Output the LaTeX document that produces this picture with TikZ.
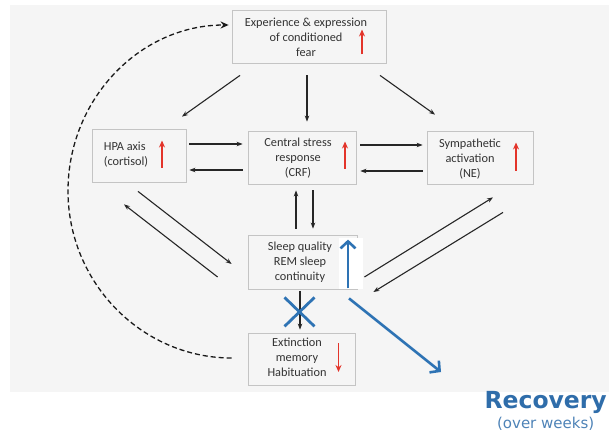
\documentclass[tikz,border=0pt]{standalone}
\usepackage{fontspec}
\setmainfont{Carlito}
\newfontfamily\dejavu{DejaVu Sans}
\usetikzlibrary{arrows.meta,calc}
\definecolor{bgc}{HTML}{F5F5F5}
\definecolor{boxborder}{HTML}{C4C4C4}
\definecolor{myred}{HTML}{E3342A}
\definecolor{myblue}{HTML}{2E73B4}
\definecolor{recblue}{HTML}{2F6DAA}
\begin{document}
\begin{tikzpicture}[x=1pt,y=-1pt,
  box/.style={draw=boxborder,fill=bgc,line width=0.8pt,inner sep=0pt},
  lbl/.style={align=center,font=\fontsize{12.3}{15}\selectfont,text=black!80,inner sep=0pt},
  arr/.style={-{Stealth[length=6pt,width=4.5pt]},line width=1.1pt,black!85},
  redarr/.style={-{Stealth[length=7pt,width=6pt]},line width=1.8pt,myred},
  bluearr/.style={-{Straight Barb[length=7pt,width=15pt,line width=2.6pt]},line width=2.6pt,myblue},
  bluex/.style={line width=2.8pt,myblue}]
\useasboundingbox (0,0) rectangle (609,441);
\fill[bgc] (10,5) rectangle (609,392);
% boxes
\node[box,minimum width=154pt,minimum height=53pt] (top) at (309,36.5) {};
\node[box,minimum width=94pt,minimum height=53pt] (hpa) at (139,155.5) {};
\node[box,minimum width=108pt,minimum height=53pt] (crf) at (302,157.5) {};
\node[box,minimum width=106pt,minimum height=53pt] (ne) at (480,157.5) {};
\node[box,minimum width=109pt,minimum height=54pt] (sleep) at (302.5,262) {};
\node[box,minimum width=107pt,minimum height=52pt] (ext) at (301.5,359) {};
\fill[white] (339,238) rectangle (363,288.6);
% labels
\node[lbl] (toptxt) at (306,37) {Experience \& expression\\of conditioned\\fear};
\node[lbl,align=left] (hpatxt) at (126,155) {HPA axis\\(cortisol)};
\node[lbl] (crftxt) at (298,158) {Central stress\\response\\(CRF)};
\node[lbl] (netxt) at (470,159) {Sympathetic\\activation\\(NE)};
\node[lbl] (sleeptxt) at (300,262) {Sleep quality\\REM sleep\\continuity};
\node[lbl] (exttxt) at (297,357) {Extinction\\memory\\Habituation};
% red arrows
\draw[redarr] ($(top.center)+(53,18)$) -- ($(top.center)+(53,-7)$);
\draw[redarr] ($(hpa.center)+(23,12)$) -- ($(hpa.center)+(23,-15)$);
\draw[redarr] ($(crf.center)+(43,11)$) -- ($(crf.center)+(43,-16)$);
\draw[redarr] ($(ne.center)+(36,13)$) -- ($(ne.center)+(36,-15)$);
\draw[redarr] ($(ext.center)+(37,-16)$) -- ($(ext.center)+(37,13)$);
% black connectors
\draw[arr] ($(top.south)+(-69,12)$) -- ($(hpa.north)+(43,-12)$);
\draw[arr] ($(top.south)+(-2,12)$) -- ($(crf.north)+(5,-9)$);
\draw[arr] ($(top.south)+(71,12)$) -- ($(ne.north)+(-45,-16)$);
\draw[arr] ($(hpa.east)+(3,-11.5)$) -- ($(crf.west)+(-5,-13.5)$);
\draw[arr] ($(crf.west)+(-5,12.5)$) -- ($(hpa.east)+(3,14.5)$);
\draw[arr] ($(crf.east)+(4,-12.5)$) -- ($(ne.west)+(-4,-12.5)$);
\draw[arr] ($(ne.west)+(-4,13.5)$) -- ($(crf.east)+(4,13.5)$);
\draw[arr] ($(crf.south)+(11,6)$) -- ($(sleep.north)+(10.5,-6)$);
\draw[arr] ($(sleep.north)+(-6.5,-6)$) -- ($(crf.south)+(-6,6)$);
\draw[arr] ($(hpa.south)+(-1,9)$) -- ($(sleep.west)+(-16,2)$);
\draw[arr] ($(sleep.west)+(-30,15)$) -- ($(hpa.south)+(-15,22)$);
\draw[arr] ($(sleep.east)+(7,15)$) -- ($(ne.south)+(13,13)$);
\draw[arr] ($(ne.south)+(23,28)$) -- ($(sleep.east)+(16,30)$);
\draw[arr] ($(sleep.south)+(-2.5,1.5)$) -- ($(ext.north)+(-1.5,-3)$);
% dashed feedback
\coordinate (dleft) at (68,191);
\draw[-{Stealth[length=8pt,width=7pt]},line width=1.3pt,dash pattern=on 5pt off 3pt,black!90]
  ($(ext.west)+(-16,-1)$) .. controls (142,358) and (68,283) .. (dleft)
  .. controls (68,99) and (140,25) .. ($(top.west)+(-3,-11.5)$);
% blue
\draw[bluex] ($(sleep.south)+(-18,8)$) -- ($(sleep.south)+(12,37)$);
\draw[bluex] ($(sleep.south)+(12,8)$) -- ($(sleep.south)+(-18,37)$);
\draw[bluearr] ($(sleep.south)+(45.5,-1)$) -- ($(sleep.north)+(45.5,5)$);
\draw[bluearr] ($(sleep.south)+(46.5,9)$) -- (441,372);
% recovery
\node[anchor=north east,inner sep=0pt,font=\dejavu\bfseries\fontsize{23.5}{27}\selectfont,text=recblue] (rec) at (607,391) {Recovery};
\node[anchor=north,inner sep=0pt,font=\dejavu\fontsize{15}{18}\selectfont,text=recblue!85] (weeks) at ($(rec.south)+(0,3)$) {(over weeks)};
\end{tikzpicture}
\end{document}
